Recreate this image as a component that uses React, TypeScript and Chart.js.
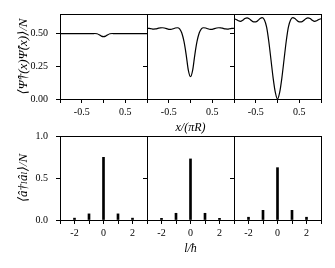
import React, { useEffect, useRef } from 'react';
import { Chart, registerables } from 'chart.js';

Chart.register(...registerables);

// ---------- data ----------
const positionX = [
  -1, -0.95, -0.9, -0.85, -0.8, -0.75, -0.7, -0.65, -0.6, -0.55, -0.5,
  -0.45, -0.4, -0.35, -0.3, -0.25, -0.2, -0.15, -0.1, -0.05, 0,
  0.05, 0.1, 0.15, 0.2, 0.25, 0.3, 0.35, 0.4, 0.45, 0.5,
  0.55, 0.6, 0.65, 0.7, 0.75, 0.8, 0.85, 0.9, 0.95, 1,
];

const densityA = [
  0.5, 0.5, 0.5, 0.5, 0.5, 0.5, 0.5, 0.5, 0.5, 0.5, 0.5,
  0.5, 0.5, 0.5, 0.5, 0.5, 0.501, 0.499, 0.492, 0.481, 0.477,
  0.481, 0.492, 0.499, 0.501, 0.5, 0.5, 0.5, 0.5, 0.5, 0.5,
  0.5, 0.5, 0.5, 0.5, 0.5, 0.5, 0.5, 0.5, 0.5, 0.5,
];

const densityB = [
  0.541, 0.54, 0.537, 0.535, 0.536, 0.54, 0.544, 0.545, 0.543, 0.538, 0.533,
  0.532, 0.537, 0.543, 0.545, 0.537, 0.505, 0.44, 0.34, 0.22, 0.17,
  0.22, 0.34, 0.44, 0.505, 0.537, 0.545, 0.543, 0.537, 0.532, 0.533,
  0.538, 0.543, 0.545, 0.544, 0.54, 0.536, 0.535, 0.537, 0.54, 0.541,
];

const densityC = [
  0.614, 0.608, 0.598, 0.594, 0.602, 0.615, 0.621, 0.614, 0.6, 0.59, 0.59,
  0.6, 0.615, 0.622, 0.605, 0.55, 0.44, 0.3, 0.16, 0.05, 0.0,
  0.05, 0.16, 0.3, 0.44, 0.55, 0.605, 0.622, 0.615, 0.6, 0.59,
  0.59, 0.6, 0.614, 0.621, 0.615, 0.602, 0.594, 0.598, 0.608, 0.614,
];

const momentumL = [-2, -1, 0, 1, 2];
const occupationA = [0.022, 0.073, 0.746, 0.073, 0.022];
const occupationB = [0.02, 0.08, 0.727, 0.08, 0.02];
const occupationC = [0.033, 0.115, 0.623, 0.115, 0.033];

const topXTicks = [-1, -0.5, 0, 0.5, 1];
const topXLabels = [-0.5, 0.5];
const topYTicks = [0, 0.25, 0.5];
const bottomXTicks = [-3, -2, -1, 0, 1, 2, 3];
const bottomXLabels = [-2, 0, 2];
const bottomYTicks = [0, 0.5, 1];

const topYTitle = '⟨Ψ\u0302†(x)Ψ\u0302(x)⟩/N';
const bottomYTitle = '⟨â†ₗâₗ⟩/N';
const topXTitle = 'x/(πR)';
const bottomXTitle = 'l/ħ';

// ---------- layout ----------
const FONT = "'Liberation Serif', 'DejaVu Serif', serif";
const PLOT_LEFT = [60, 147, 234];
const PLOT_W = 87;
const ROW_TOP = [14, 136];
const ROW_H = [85, 84];
const PAD_T = 20;
const PAD_R = 8;
const AXIS_B = 36;

const framePlugin = {
  id: 'frame',
  afterDraw(chart: any) {
    const { ctx, chartArea } = chart;
    const a = (v: number) => Math.round(v - 0.5) + 0.5;
    ctx.save();
    ctx.strokeStyle = '#000';
    ctx.lineWidth = 1;
    const l = a(chartArea.left), t = a(chartArea.top), r = a(chartArea.right), b = a(chartArea.bottom);
    ctx.strokeRect(l, t, r - l, b - t);
    ctx.restore();
  },
};

type Panel = { row: number; col: number; left: number; top: number; w: number; h: number; axisW: number };

const panels: Panel[] = [];
for (let row = 0; row < 2; row++) {
  for (let col = 0; col < 3; col++) {
    const axisW = col === 0 ? 60 : 6;
    panels.push({
      row,
      col,
      left: PLOT_LEFT[col] - axisW,
      top: ROW_TOP[row] - PAD_T,
      w: axisW + PLOT_W + PAD_R,
      h: PAD_T + ROW_H[row] + AXIS_B,
      axisW,
    });
  }
}

function buildConfig(p: Panel): any {
  const tickFont = { family: FONT, size: 10 };
  const titleFont = { family: FONT, size: 13, style: 'italic' as const };
  const grid = { display: true, drawOnChartArea: false, drawTicks: true, tickLength: 4, color: '#000', lineWidth: 1, offset: false };
  const isTop = p.row === 0;
  const xTicks = isTop ? topXTicks : bottomXTicks;
  const xLabels = isTop ? topXLabels : bottomXLabels;
  const yTicks = isTop ? topYTicks : bottomYTicks;

  const x = {
    type: 'linear',
    min: isTop ? -1 : -3,
    max: isTop ? 1 : 3,
    offset: false,
    bounds: 'data',
    afterBuildTicks: (s: any) => { s.ticks = xTicks.map((v) => ({ value: v })); },
    afterFit: (s: any) => { s.height = AXIS_B; },
    grid,
    border: { display: false },
    ticks: {
      autoSkip: false, maxRotation: 0, minRotation: 0, padding: 3, color: '#000', font: tickFont,
      callback: (v: number) => (xLabels.includes(v) ? String(v) : ''),
    },
    title: {
      display: p.col === 1,
      text: isTop ? topXTitle : bottomXTitle,
      color: '#000',
      font: { family: FONT, size: 12, style: 'italic' },
      padding: { top: 0, bottom: 0 },
    },
  };
  const y = {
    type: 'linear',
    min: 0,
    max: isTop ? 0.65 : 1,
    bounds: 'data',
    afterBuildTicks: (s: any) => { s.ticks = yTicks.map((v) => ({ value: v })); },
    afterFit: (s: any) => { s.width = p.axisW; },
    grid,
    border: { display: false },
    ticks: {
      autoSkip: false, padding: 8, color: '#000', font: tickFont,
      callback: (v: number) => (p.col === 0 ? v.toFixed(isTop ? 2 : 1) : ''),
    },
    title: {
      display: p.col === 0,
      text: isTop ? topYTitle : bottomYTitle,
      color: '#000',
      font: titleFont,
      padding: { top: 16, bottom: 0 },
    },
  };

  let data: any;
  if (isTop) {
    const ys = [densityA, densityB, densityC][p.col];
    data = {
      datasets: [{
        type: 'line',
        data: positionX.map((xv, i) => ({ x: xv, y: ys[i] })),
        borderColor: '#000',
        borderWidth: 1.2,
        pointRadius: 0,
        fill: false,
        cubicInterpolationMode: 'monotone',
      }],
    };
  } else {
    const ys = [occupationA, occupationB, occupationC][p.col];
    data = {
      datasets: [{
        type: 'bar',
        data: momentumL.map((lv, i) => ({ x: lv, y: ys[i] })),
        backgroundColor: '#000',
        borderWidth: 0,
        barThickness: 2,
      }],
    };
  }

  return {
    type: isTop ? 'line' : 'bar',
    data,
    options: {
      responsive: false,
      maintainAspectRatio: false,
      animation: false,
      events: [],
      layout: { padding: { top: PAD_T, right: PAD_R, left: 0, bottom: 0 } },
      plugins: { legend: { display: false }, tooltip: { enabled: false } },
      scales: { x, y },
    },
    plugins: [framePlugin],
  };
}

export default function App() {
  const refs = useRef<(HTMLCanvasElement | null)[]>([]);
  useEffect(() => {
    const charts = panels.map((p, i) => new Chart(refs.current[i] as HTMLCanvasElement, buildConfig(p)));
    return () => charts.forEach((c) => c.destroy());
  }, []);
  return (
    <div style={{ position: 'absolute', left: 0, top: 0, width: 335, height: 268, overflow: 'hidden', background: '#fff' }}>
      {panels.map((p, i) => (
        <canvas
          key={i}
          ref={(el) => { refs.current[i] = el; }}
          width={p.w}
          height={p.h}
          style={{ position: 'absolute', left: p.left, top: p.top, width: p.w, height: p.h }}
        />
      ))}
    </div>
  );
}
